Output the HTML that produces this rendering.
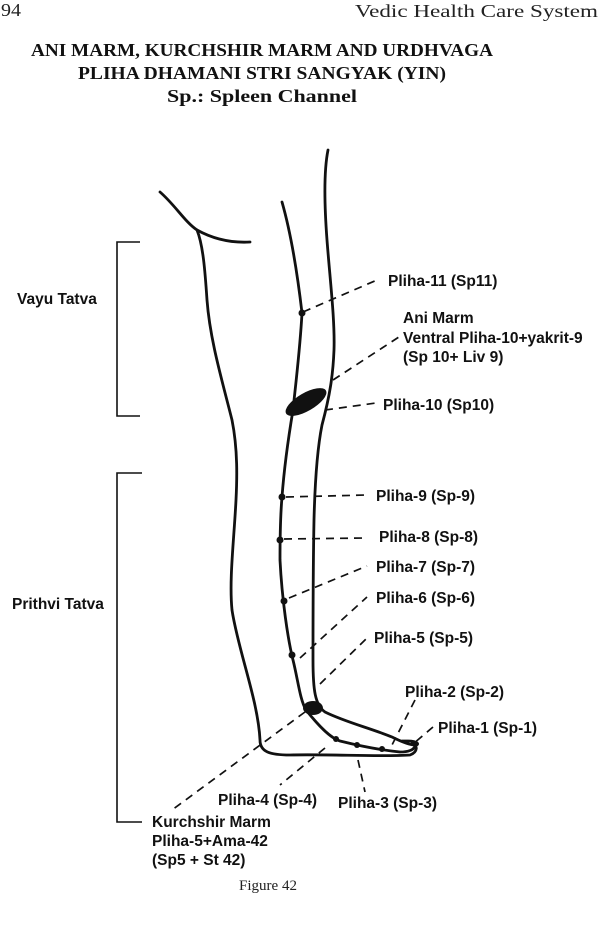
<!DOCTYPE html>
<html><head><style>
html,body{margin:0;padding:0;background:#fff;}
svg{display:block;}
.s{font-family:"Liberation Sans",sans-serif;font-weight:bold;font-size:15.5px;fill:#111;}
.t{font-family:"Liberation Serif",serif;font-weight:bold;font-size:18px;fill:#111;}
.d{stroke:#111;stroke-width:1.7;stroke-dasharray:8,6;fill:none;}
.l{stroke:#111;stroke-width:2.8;fill:none;stroke-linecap:round;stroke-linejoin:round;}
</style></head><body>
<svg width="600" height="925" viewBox="0 0 600 925" xmlns="http://www.w3.org/2000/svg">
<text x="1" y="16" font-family="Liberation Serif,serif" font-size="18" fill="#222" textLength="20" lengthAdjust="spacingAndGlyphs">94</text>
<text x="355" y="17" font-family="Liberation Serif,serif" font-size="18" fill="#222" textLength="243" lengthAdjust="spacingAndGlyphs">Vedic Health Care System</text>
<text class="t" x="262" y="56" text-anchor="middle" textLength="462" lengthAdjust="spacingAndGlyphs">ANI MARM, KURCHSHIR MARM AND URDHVAGA</text>
<text class="t" x="262" y="79" text-anchor="middle" textLength="368" lengthAdjust="spacingAndGlyphs">PLIHA DHAMANI STRI SANGYAK (YIN)</text>
<text class="t" x="262" y="102" text-anchor="middle" textLength="190" lengthAdjust="spacingAndGlyphs">Sp.: Spleen Channel</text>

<path d="M140 242 H117 V416 H140" stroke="#111" stroke-width="1.6" fill="none"/>
<path d="M142 473 H117 V822 H142" stroke="#111" stroke-width="1.6" fill="none"/>
<text class="s" x="17" y="304">Vayu Tatva</text>
<text class="s" x="12" y="609">Prithvi Tatva</text>

<path class="l" d="M160 192 C175 205 185 222 197 230 C215 240 232 243 250 242"/>
<path class="l" d="M197 230 C203 245 205 270 207 300 C210 340 222 380 232 420 C238 450 237 480 236 500 C234 540 229 580 232 610 C238 650 258 700 260 740 C260 752 270 755 290 755 C330 754 380 757 410 755 C418 752 418 745 412 743"/>
<path class="l" d="M282 202 C290 230 297 270 302 313 C300 350 295 390 293 410 C288 440 284 470 282 497 C280 520 280 540 280 560 C282 600 288 640 293 660 C298 680 300 700 306 710 C318 725 330 738 340 741 C360 746 380 750 400 752 C408 752 414 750 415 746"/>
<path class="l" d="M328 150 C324 170 324 200 327 240 C330 280 335 320 334 350 C333 375 330 395 322 425 C317 450 315 480 314 520 C313 570 313 620 313 660 C313 690 315 705 325 712 C345 722 370 728 392 737 C402 742 410 745 415 745 C420 745 418 741 408 741 L402 741"/>
<ellipse cx="306" cy="402" rx="23" ry="9" transform="rotate(-30 306 402)" fill="#111"/>
<ellipse cx="313" cy="708" rx="10" ry="7" fill="#111"/>
<g fill="#111">
<circle cx="302" cy="313" r="3.5"/><circle cx="282" cy="497" r="3.5"/><circle cx="280" cy="540" r="3.5"/>
<circle cx="284" cy="601" r="3.5"/><circle cx="292" cy="655" r="3.5"/>
<circle cx="336" cy="739" r="3"/><circle cx="357" cy="745" r="3"/><circle cx="382" cy="749" r="3"/>
</g>

<path class="d" d="M303 312 L377 280"/>
<path class="d" d="M333 380 L402 335"/>
<path class="d" d="M325 410 L376 403"/>
<path class="d" d="M286 497 L367 495"/>
<path class="d" d="M284 539 L367 538"/>
<path class="d" d="M289 598 L367 566"/>
<path class="d" d="M300 658 L367 597"/>
<path class="d" d="M320 684 L367 638"/>
<path class="d" d="M415 700 L392 745"/>
<path class="d" d="M433 727 L413 744"/>
<path class="d" d="M358 760 L365 792"/>
<path class="d" d="M325 748 L280 785"/>
<path class="d" d="M305 712 L172 810"/>

<text class="s" x="388" y="286">Pliha-11 (Sp11)</text>
<text class="s" x="403" y="323">Ani Marm</text>
<text class="s" x="403" y="343">Ventral Pliha-10+yakrit-9</text>
<text class="s" x="403" y="362">(Sp 10+ Liv 9)</text>
<text class="s" x="383" y="410">Pliha-10 (Sp10)</text>
<text class="s" x="376" y="501">Pliha-9 (Sp-9)</text>
<text class="s" x="379" y="542">Pliha-8 (Sp-8)</text>
<text class="s" x="376" y="572">Pliha-7 (Sp-7)</text>
<text class="s" x="376" y="603">Pliha-6 (Sp-6)</text>
<text class="s" x="374" y="643">Pliha-5 (Sp-5)</text>
<text class="s" x="405" y="697">Pliha-2 (Sp-2)</text>
<text class="s" x="438" y="733">Pliha-1 (Sp-1)</text>
<text class="s" x="218" y="805">Pliha-4 (Sp-4)</text>
<text class="s" x="338" y="808">Pliha-3 (Sp-3)</text>
<text class="s" x="152" y="827">Kurchshir Marm</text>
<text class="s" x="152" y="846">Pliha-5+Ama-42</text>
<text class="s" x="152" y="865">(Sp5 + St 42)</text>

<text x="268" y="890" text-anchor="middle" font-family="Liberation Serif,serif" font-size="15" fill="#222">Figure 42</text>
</svg>
</body></html>
